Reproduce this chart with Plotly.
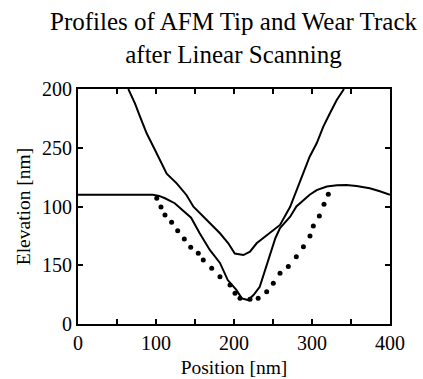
import plotly.graph_objects as go

# Tip profile (upper solid curve)
tip_x = [64.5, 73, 79.5, 88, 96.5, 105, 113.7, 126.5, 139, 148, 156.4, 169, 182, 192.7,
         201, 212, 220.5, 229, 246, 259, 272, 280, 289, 297, 306, 314.5, 323, 331.7, 341]
tip_y = [200, 187.8, 176.5, 162.3, 151, 139.6, 128, 119.7, 109.8, 99.8, 94.2, 85.7, 77.2, 68.7,
         60, 58.7, 61.5, 68.7, 77.2, 84.3, 99.8, 113, 128, 142.4, 153.8, 168, 179.3, 190.6, 200]

# Wear track profile (middle solid curve)
track_x = [0, 50, 96, 104, 111.5, 124, 137, 145, 156, 169, 182, 192, 203, 210, 218, 225,
           233, 240, 246, 253, 259, 272, 280, 289, 297, 306, 319, 332, 344, 357, 374, 387, 400]
track_y = [110, 110, 110, 109, 107, 102.8, 95.6, 90.5, 77.2, 63, 52, 37.4, 29, 21.8, 20.4, 24.7,
           31.7, 46, 60, 73, 81.7, 91.3, 100, 105.5, 110, 114, 117, 118, 118.3, 117.4, 115.5, 113, 110]

# Dotted profile
dot_x = [101, 106.4, 111.5, 120, 127.8, 136.3, 144.5, 154.2, 160.6, 171.4, 182, 194.9, 201.3,
         207.7, 220.5, 231, 241.9, 250.4, 259, 269.6, 279.9, 289, 297.4, 301.7, 309.4, 315.4, 320.9]
dot_y = [107, 99.6, 92.8, 86.6, 79.4, 72.3, 65.3, 60.2, 54.5, 47.4, 40.3, 33.2, 26.1,
         21.9, 21, 21.9, 27.5, 34.6, 43.1, 49, 57.3, 65.8, 74.9, 83.4, 91.9, 101.9, 110.4]

x_ticks = [0, 50, 100, 150, 200, 250, 300, 350, 400]
x_ticktext = ["0", "", "100", "", "200", "", "300", "", "400"]
y_ticks = [0, 50, 100, 150, 200]
y_ticktext = ["0", "150", "100", "250", "200"]

FONT = "Liberation Serif"
tick_font = dict(family=FONT, size=20, color="black")
label_font = dict(family=FONT, size=19.5, color="black")

fig = go.Figure()
fig.add_trace(go.Scatter(x=tip_x, y=tip_y, mode="lines",
                         line=dict(color="black", width=2), showlegend=False))
fig.add_trace(go.Scatter(x=track_x, y=track_y, mode="lines",
                         line=dict(color="black", width=2), showlegend=False))
fig.add_trace(go.Scatter(x=dot_x, y=dot_y, mode="markers",
                         marker=dict(color="black", size=5), showlegend=False))

fig.update_layout(
    template="none",
    width=423, height=379,
    margin=dict(l=78, r=33, t=89, b=55),
    paper_bgcolor="white", plot_bgcolor="white",
    font=dict(family=FONT, color="black", size=20),
    annotations=[dict(text="Profiles of AFM Tip and Wear Track<br>after Linear Scanning",
                      xref="paper", yref="paper", x=0.5, y=1, yshift=83,
                      xanchor="center", yanchor="top", showarrow=False,
                      font=dict(family=FONT, size=25, color="black"))],
)
fig.update_xaxes(range=[0, 400], tickvals=x_ticks, ticktext=x_ticktext,
                 ticks="inside", ticklen=5, tickwidth=1.5, tickcolor="black",
                 tickfont=tick_font,
                 showline=True, linecolor="black", linewidth=2, mirror="ticks",
                 showgrid=False, zeroline=False, automargin=False,
                 title=dict(text="Position [nm]", standoff=7, font=label_font))
fig.update_yaxes(range=[0, 200], tickvals=y_ticks, ticktext=y_ticktext,
                 ticks="inside", ticklen=5, tickwidth=1.5, tickcolor="black",
                 tickfont=tick_font,
                 showline=True, linecolor="black", linewidth=2, mirror="ticks",
                 showgrid=False, zeroline=False, automargin=False,
                 title=dict(text="Elevation [nm]", standoff=6, font=label_font))

fig.write_html("out.html", config={"displayModeBar": False},
               post_script="document.body.style.margin='0';document.body.style.padding='0';")
